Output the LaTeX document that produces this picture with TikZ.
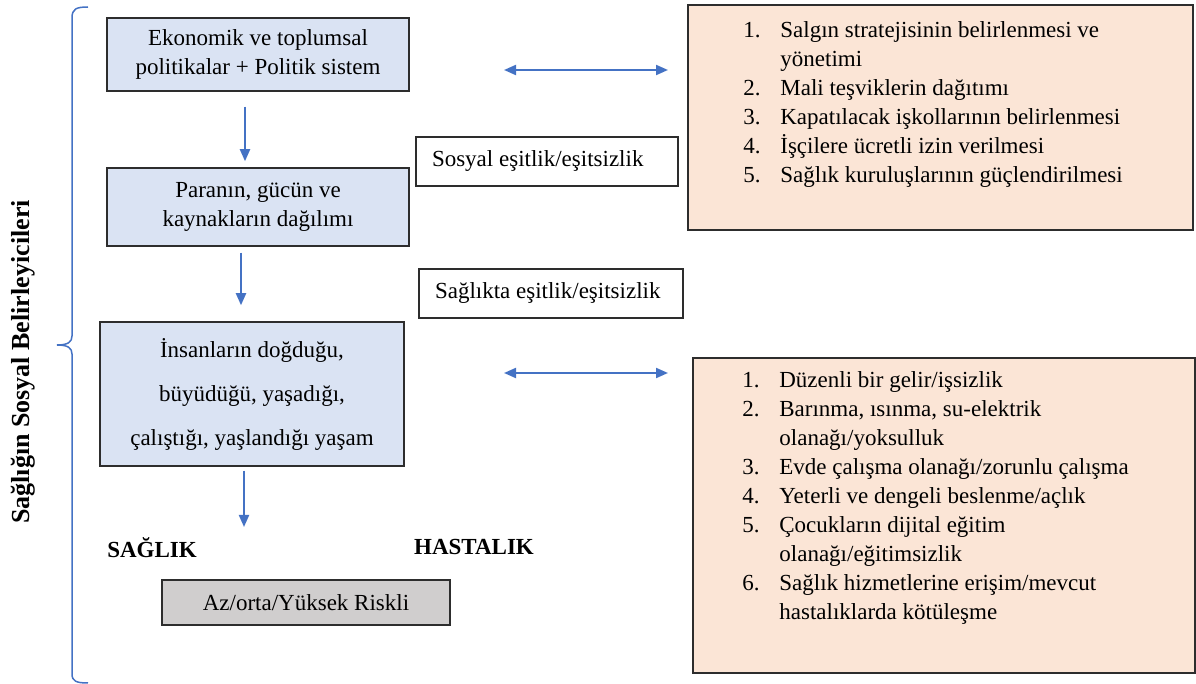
\documentclass[tikz,border=0pt]{standalone}
\usepackage{fontspec}
\setmainfont{Liberation Serif}
\usepackage{tikz}
\usetikzlibrary{arrows.meta, positioning, calc}
\definecolor{ArrowBlue}{RGB}{68, 114, 196}
\definecolor{BoxBlue}{RGB}{218, 227, 243}
\definecolor{BoxPink}{RGB}{251, 229, 214}
\definecolor{BoxGrey}{RGB}{208, 206, 206}
\definecolor{EdgeGrey}{RGB}{45, 45, 45}

\begin{document}
\begin{tikzpicture}[
    x=0.5pt, y=-0.5pt, % one unit = one pixel of the layout, y grows downwards
    font=\rmfamily\fontsize{11.5}{14.5}\selectfont,
    >={Triangle[width=5pt, length=6pt]},
    box/.style={draw=EdgeGrey, line width=0.75pt, rectangle, inner sep=0pt, align=center},
    stagebox/.style={box, fill=BoxBlue, minimum width=151pt},
    labelbox/.style={box, fill=white, minimum height=24.5pt, inner xsep=8pt},
    listbox/.style={box, fill=BoxPink},
    flow/.style={->, ArrowBlue, line width=1pt},
    biflow/.style={<->, ArrowBlue, line width=1pt}
]
\useasboundingbox (0,0) rectangle (1196,684);

% --- Brace on the left with its rotated title ---
\draw[ArrowBlue, line width=0.75pt]
    (88,7) .. controls (76,7) and (72,9) .. (72,18) -- (72,336)
    .. controls (72,342) and (68,345) .. (57,345)
    .. controls (68,345) and (72,348) .. (72,354) -- (72,674)
    .. controls (72,681) and (76,683) .. (88,683);
\node[rotate=90, font=\fontsize{13}{15}\selectfont\bfseries] (title) at (23,362) {Sağlığın Sosyal Belirleyicileri};

% --- The three stages ---
\node[stagebox, minimum height=36.5pt] (eco) at (258,54.5) {Ekonomik ve toplumsal\\politikalar + Politik sistem};
\node[stagebox, minimum height=39pt] (para) at (258,207) {Paranın, gücün ve\\kaynakların dağılımı};
\node[stagebox, minimum width=152pt, minimum height=72pt, font=\fontsize{11.5}{22}\selectfont] (life) at (252,394)
    {İnsanların doğduğu,\\büyüdüğü, yaşadığı,\\çalıştığı, yaşlandığı yaşam};

% --- Down arrows between the stages ---
\draw[flow, shorten <=7.5pt, shorten >=3pt] ([xshift=-6.5pt]eco.south) -- ([xshift=-6.5pt]eco.south |- para.north);
\draw[flow, shorten <=3pt, shorten >=8pt] ([xshift=-8.5pt]para.south) -- ([xshift=-8.5pt]para.south |- life.north);
\coordinate (lifeend) at (244,527);
\draw[flow, shorten <=2pt] ([xshift=-4pt]life.south) -- (lifeend);

% --- Equity labels ---
\node[labelbox] (sosyal) at (547,161.5) {\makebox[115pt][l]{Sosyal eşitlik/eşitsizlik}};
\node[labelbox] (saglikta) at (551,293.5) {\makebox[116pt][l]{Sağlıkta eşitlik/eşitsizlik}};

% --- Outcome ---
\node[font=\fontsize{11.5}{14}\selectfont\bfseries] (saglik) at (152,548) {SAĞLIK};
\node[font=\fontsize{11.5}{14}\selectfont\bfseries] (hastalik) at (474,547) {HASTALIK};
\node[box, fill=BoxGrey, minimum width=144pt, minimum height=22.5pt] (risk) at (306,602.5) {Az/orta/Yüksek Riskli};

% --- Policy list (top right) ---
\node[listbox, minimum width=252.5pt, minimum height=112.5pt] (polbox) at (940.5,117.5) {};
\node[anchor=north west, inner sep=0pt] (pollist) at (743,17) {%
\begin{tabular}{@{}p{18.5pt}@{}l@{}}
1. & Salgın stratejisinin belirlenmesi ve\\
   & yönetimi\\
2. & Mali teşviklerin dağıtımı\\
3. & Kapatılacak işkollarının belirlenmesi\\
4. & İşçilere ücretli izin verilmesi\\
5. & Sağlık kuruluşlarının güçlendirilmesi
\end{tabular}};

% --- Living conditions list (bottom right) ---
\node[listbox, minimum width=251pt, minimum height=157.5pt] (condbox) at (944,515.5) {};
\node[anchor=north west, inner sep=0pt] (condlist) at (742,367) {%
\begin{tabular}{@{}p{18.5pt}@{}l@{}}
1. & Düzenli bir gelir/işsizlik\\
2. & Barınma, ısınma, su-elektrik\\
   & olanağı/yoksulluk\\
3. & Evde çalışma olanağı/zorunlu çalışma\\
4. & Yeterli ve dengeli beslenme/açlık\\
5. & Çocukların dijital eğitim\\
   & olanağı/eğitimsizlik\\
6. & Sağlık hizmetlerine erişim/mevcut\\
   & hastalıklarda kötüleşme
\end{tabular}};

% --- Two-way arrows to the lists ---
\coordinate (ecoarrow) at (504,70);
\coordinate (polarrow) at (668,70);
\draw[biflow] (ecoarrow) -- (polarrow);
\coordinate (lifearrow) at (504,373);
\coordinate (condarrow) at (668,373);
\draw[biflow] (lifearrow) -- (condarrow);

\end{tikzpicture}
\end{document}
